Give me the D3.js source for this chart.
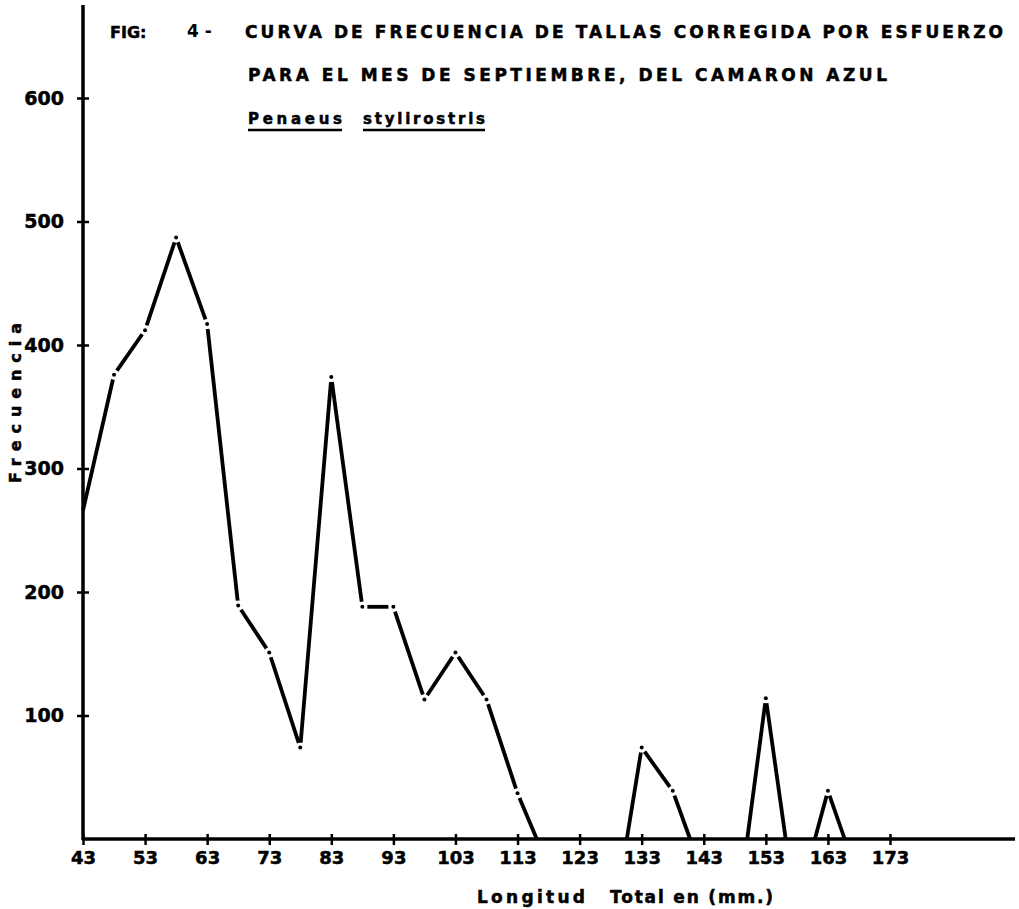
<!DOCTYPE html>
<html>
<head>
<meta charset="utf-8">
<script src="https://cdn.jsdelivr.net/npm/d3@7"></script>
<style>
  html, body { margin: 0; padding: 0; background: #fff; }
  text { font-family: 'DejaVu Sans', sans-serif; font-weight: bold; fill: #000; stroke: #000; stroke-width: 0.5px; }
</style>
</head>
<body>
<div id="chart"></div>
<script>
// Longitud total (mm) y frecuencia corregida; null separa los tramos de la curva
const tallas = [43, 48, 53, 58, 63, 68, 73, 78, 83, 88, 93, 98, 103, 108, 113, 116.1,
  123,
  130.6, 133, 138, 140.8,
  145,
  150, 153, 156.2,
  158,
  160.9, 163, 165.7]
const frecuencia = [266, 376, 412, 487, 417, 189, 151, 74, 374, 188, 188, 113, 151, 113, 37, 0,
  null,
  0, 74, 39, 0,
  null,
  0, 114, 0,
  null,
  0, 39, 0]

const xTicks = [43, 53, 63, 73, 83, 93, 103, 113, 123, 133, 143, 153, 163, 173]
const yTicks = [100, 200, 300, 400, 500, 600]

const width = 1019
const height = 909
const gap = 5

const svg = d3.select('#chart')
  .append('svg')
  .attr('width', width)
  .attr('height', height)

const x = d3.scaleLinear().domain([43, 173]).range([83, 890])
const y = d3.scaleLinear().domain([0, 600]).range([839, 98])

// Ejes
const xAxis = svg.append('g')
  .attr('transform', `translate(0,${y(0)})`)
  .call(d3.axisBottom(x).tickValues(xTicks).tickSize(0).tickPadding(12).tickFormat(d3.format('d')))
xAxis.select('.domain').remove()
xAxis.selectAll('text').attr('font-size', 18).attr('font-family', 'DejaVu Sans').attr('font-weight', 'bold')
xAxis.selectAll('.tick').append('line')
  .attr('y1', -5).attr('y2', 6)
  .attr('stroke', '#000').attr('stroke-width', 2.5)

svg.append('line')
  .attr('x1', x(43) - 1).attr('x2', 1015)
  .attr('y1', y(0)).attr('y2', y(0))
  .attr('stroke', '#000').attr('stroke-width', 3.5)

const yAxis = svg.append('g')
  .attr('transform', `translate(${x(43)},0)`)
  .call(d3.axisLeft(y).tickValues(yTicks).tickSize(0).tickPadding(19).tickFormat(d3.format('d')))
yAxis.select('.domain').remove()
yAxis.selectAll('text').attr('font-size', 19).attr('font-family', 'DejaVu Sans').attr('font-weight', 'bold')
yAxis.selectAll('.tick').append('line')
  .attr('x1', -6).attr('x2', 6)
  .attr('stroke', '#000').attr('stroke-width', 2.5)

svg.append('line')
  .attr('x1', x(43)).attr('x2', x(43))
  .attr('y1', 5).attr('y2', y(0) + 1)
  .attr('stroke', '#000').attr('stroke-width', 3.5)

// Tramos de la curva
const runs = []
let current = []
tallas.forEach((t, i) => {
  if (frecuencia[i] === null) {
    if (current.length) runs.push(current)
    current = []
  } else {
    current.push([x(t), y(frecuencia[i])])
  }
})
if (current.length) runs.push(current)

// Línea de trazo y punto: segmentos recortados y un punto en cada dato interior
const curve = svg.append('g')
runs.forEach(run => {
  for (let i = 0; i < run.length - 1; i++) {
    const [x0, y0] = run[i]
    const [x1, y1] = run[i + 1]
    const len = Math.hypot(x1 - x0, y1 - y0)
    const ux = (x1 - x0) / len
    const uy = (y1 - y0) / len
    const g0 = i === 0 ? 0 : gap
    const g1 = i === run.length - 2 ? 0 : gap
    curve.append('line')
      .attr('x1', x0 + ux * g0).attr('y1', y0 + uy * g0)
      .attr('x2', x1 - ux * g1).attr('y2', y1 - uy * g1)
      .attr('stroke', '#000')
      .attr('stroke-width', 3.8)
  }
  curve.selectAll(null)
    .data(run.slice(1, -1))
    .enter()
    .append('circle')
    .attr('cx', d => d[0])
    .attr('cy', d => d[1])
    .attr('r', 2)
    .attr('fill', '#000')
})

// Títulos
svg.append('text')
  .attr('x', 110).attr('y', 38)
  .attr('font-size', 16)
  .text('FIG:')
svg.append('text')
  .attr('x', 187).attr('y', 37)
  .attr('font-size', 17)
  .attr('font-weight', 'normal')
  .style('stroke-width', '0px')
  .text('4 -')
svg.append('text')
  .attr('x', 245).attr('y', 38)
  .attr('font-size', 17)
  .attr('textLength', 758)
  .attr('lengthAdjust', 'spacing')
  .text('CURVA DE FRECUENCIA DE TALLAS CORREGIDA POR ESFUERZO')
svg.append('text')
  .attr('x', 248).attr('y', 81)
  .attr('font-size', 17)
  .attr('textLength', 639)
  .attr('lengthAdjust', 'spacing')
  .text('PARA EL MES DE SEPTIEMBRE, DEL CAMARON AZUL')

const species = [['Penaeus', 248, 342], ['stylirostris', 363, 485]]
species.forEach(([word, a, b]) => {
  svg.append('text')
    .attr('x', a).attr('y', 124)
    .attr('font-size', 15)
    .attr('textLength', b - a)
    .attr('lengthAdjust', 'spacing')
    .text(word)
  svg.append('line')
    .attr('x1', a).attr('x2', b)
    .attr('y1', 130).attr('y2', 130)
    .attr('stroke', '#000').attr('stroke-width', 2.5)
})

// Etiquetas de los ejes
svg.append('text')
  .attr('x', 477).attr('y', 903)
  .attr('font-size', 17)
  .attr('textLength', 108)
  .attr('lengthAdjust', 'spacing')
  .text('Longitud')
svg.append('text')
  .attr('x', 610).attr('y', 903)
  .attr('font-size', 17)
  .attr('textLength', 163)
  .attr('lengthAdjust', 'spacing')
  .text('Total en (mm.)')

svg.append('text')
  .attr('transform', 'translate(21,403) rotate(-90)')
  .attr('text-anchor', 'middle')
  .attr('font-size', 16)
  .attr('textLength', 160)
  .attr('lengthAdjust', 'spacing')
  .text('Frecuencia')
</script>
</body>
</html>
